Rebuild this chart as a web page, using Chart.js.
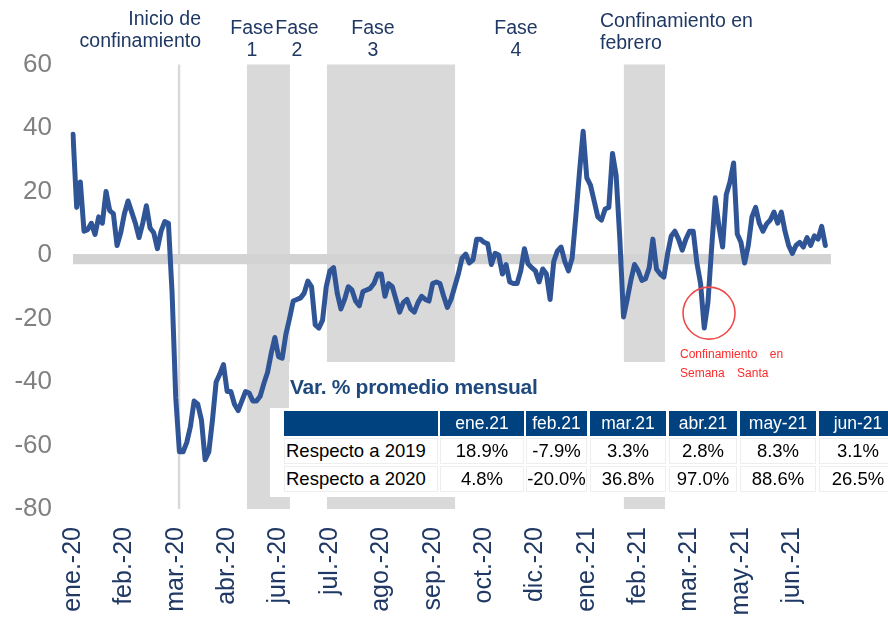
<!DOCTYPE html>
<html>
<head>
<meta charset="utf-8">
<script src="https://cdn.jsdelivr.net/npm/chart.js@4/dist/chart.umd.min.js"></script>
<style>
  body { margin: 0; background: #fff; font-family: "Liberation Sans", Arial, sans-serif; }
  #wrap { position: relative; width: 888px; height: 618px; overflow: hidden; }
  .nota { position: absolute; color: #1F3864; font-size: 19.5px; line-height: 22px; white-space: nowrap; }
  .centro { transform: translateX(-50%); text-align: center; }
  .roja { position: absolute; color: #FF2A2A; font-size: 12px; line-height: 19px; white-space: nowrap; word-spacing: 9px; }
  .caja { position: absolute; background: #fff; }
  .titulo { position: absolute; left: 290px; top: 375px; color: #1F497D; font-weight: bold; font-size: 21px; letter-spacing: -0.3px; white-space: nowrap; }
  .celda { position: absolute; box-sizing: border-box; display: flex; align-items: center; justify-content: center; font-size: 18.5px; white-space: nowrap; }
  .cab { background: #00427F; color: #fff; font-size: 17.5px; }
  .dato { background: #fff; color: #000; border: 1px solid #EEEEEE; }
</style>
</head>
<body>
<div id="wrap">
  <canvas id="chart" width="888" height="618"></canvas>
</div>
<script>
// etiquetas del eje X (una cada 14 puntos)
const tickLabels = ["ene.-20", "feb.-20", "mar.-20", "abr.-20", "jun.-20", "jul.-20", "ago.-20", "sep.-20",
  "oct.-20", "dic.-20", "ene.-21", "feb.-21", "mar.-21", "may.-21", "jun.-21"];

// serie, por tramos
const tramo1 = [38, 15, 23, 7.5, 8, 10, 6.5, 12, 10, 20, 14, 13, 3, 7, 13, 17, 13.5, 10, 5.5, 10,
  15.5, 8.5, 7, 2, 7.5, 10.5, 10, -12];
const tramo2 = [-45, -62, -62, -59, -54, -46, -47, -52, -64.5, -62, -52, -40, -37.5, -34.5,
  -43, -43, -47, -49, -46, -43, -43.5, -46, -46, -44.5, -40.5, -37, -31, -26, -32, -32.5,
  -25, -20, -14.5, -14, -13.5, -12, -8.2, -10, -22, -23, -20.5, -10];
const tramo3 = [-5, -4, -12, -17, -14, -10, -11, -14.5, -16, -11.5, -11, -10.5, -9, -6, -6, -13,
  -9, -10, -14, -18, -15, -14, -17, -18, -15, -13, -14, -14.5, -9, -8.5, -9, -13, -16.5, -14,
  -10, -6, -1, 0.3, -2.5, -1.5, 5, 5, 4, 3.5, -3, 0.5, 0, -6, -3, -8.5, -9, -9, -5, 2, -2.8,
  -4, -5, -8.5, -4.4, -6, -14, -2, 1.3, 2.5, -2, -5, -1, 12, 26, 39];
const tramo4 = [24.3, 22, 17, 12, 11, 14.5, 15, 32, 25, 5, -19.5, -14, -8, -3, -5, -8, -7.5, -4,
  5, -4.5, -6, -7, 0.3, 6, 7.5, 5, 1.5, 5, 7.5, 7.5, -2.5, -9, -23, -15, 2, 18, 9, 2.5, 19, 23,
  29, 6.6, 4, -2.5, 3, 12, 15, 10, 7.5, 9.8, 11, 13.5, 10, 13.5, 7.5, 3, 0.5, 3, 4, 2.5, 5.5,
  3, 6, 5, 9, 3];

const serie = [...tramo1, ...tramo2, ...tramo3, ...tramo4];

// periodos sombreados (en posiciones del eje X)
const sombraDesde = [47.4, 69.2, 150.1];
const sombraHasta = [59.1, 104.1, 161.3];
const inicioConfinamiento = 28.9;
const semanaSanta = { x: 173.3, y: -18.3 };

// tabla
const mesesTabla = ["ene.21", "feb.21", "mar.21", "abr.21", "may-21", "jun-21"];
const respecto2019 = ["18.9%", "-7.9%", "3.3%", "2.8%", "8.3%", "3.1%"];
const respecto2020 = ["4.8%", "-20.0%", "36.8%", "97.0%", "88.6%", "26.5%"];

const totalPuntos = 208;
const labels = [];
for (let i = 0; i < totalPuntos; i++) {
  labels.push(i % 14 === 0 && tickLabels[i / 14] ? tickLabels[i / 14] : "");
}

// fondo: fases sombreadas, línea de inicio y banda del cero
const fondo = {
  id: "fondo",
  beforeDatasetsDraw(chart) {
    const { ctx, chartArea: a, scales: { x, y } } = chart;
    ctx.save();
    ctx.fillStyle = "#D9D9D9";
    sombraDesde.forEach((d, k) => {
      const x0 = x.getPixelForValue(d);
      const x1 = x.getPixelForValue(sombraHasta[k]);
      ctx.fillRect(x0, a.top, x1 - x0, a.bottom - a.top);
    });
    const xi = x.getPixelForValue(inicioConfinamiento);
    ctx.fillRect(xi - 1.2, a.top, 2.4, a.bottom - a.top);
    ctx.fillStyle = "#D3D3D3";
    const y0 = y.getPixelForValue(0.3);
    const y1 = y.getPixelForValue(-2.9);
    ctx.fillRect(a.left, y0, x.getPixelForValue(206.5) - a.left, y1 - y0);
    ctx.restore();
  },
  afterDatasetsDraw(chart) {
    const { ctx, scales: { x, y } } = chart;
    ctx.save();
    ctx.strokeStyle = "#EE4A4A";
    ctx.lineWidth = 1.6;
    ctx.beginPath();
    ctx.arc(x.getPixelForValue(semanaSanta.x), y.getPixelForValue(semanaSanta.y), 26, 0, Math.PI * 2);
    ctx.stroke();
    ctx.restore();
  }
};

new Chart(document.getElementById("chart"), {
  type: "line",
  data: {
    labels: labels,
    datasets: [{
      data: serie,
      borderColor: "#2F5597",
      borderWidth: 5,
      borderJoinStyle: "round",
      borderCapStyle: "round",
      pointRadius: 0,
      tension: 0,
      fill: false
    }]
  },
  options: {
    responsive: false,
    animation: false,
    devicePixelRatio: 1,
    layout: { padding: { top: 64.5, right: 55.3, bottom: 0, left: 0 } },
    plugins: { legend: { display: false }, tooltip: { enabled: false } },
    scales: {
      x: {
        grid: { display: false, drawTicks: false },
        border: { display: false },
        ticks: {
          autoSkip: false,
          maxRotation: 90,
          minRotation: 90,
          padding: 18,
          color: "#1F3864",
          font: { family: "Liberation Sans", size: 25 },
          callback: (v, i) => labels[i]
        },
        afterFit: s => { s.height = 109; }
      },
      y: {
        min: -80,
        max: 60,
        grid: { display: false, drawTicks: false },
        border: { display: false },
        ticks: {
          stepSize: 20,
          padding: 21,
          color: "#808080",
          font: { family: "Liberation Sans", size: 26 }
        },
        afterFit: s => { s.width = 73; }
      }
    }
  },
  plugins: [fondo]
});

// anotaciones y tabla (texto HTML sobre el gráfico)
const wrap = document.getElementById("wrap");
function add(html) { wrap.insertAdjacentHTML("beforeend", html); }

add('<div class="nota" style="right:687px;top:7px;text-align:right">Inicio de<br>confinamiento</div>');
add('<div class="nota centro" style="left:252px;top:16px">Fase<br>1</div>');
add('<div class="nota centro" style="left:297px;top:16px">Fase<br>2</div>');
add('<div class="nota centro" style="left:373px;top:16px">Fase<br>3</div>');
add('<div class="nota centro" style="left:516px;top:16px">Fase<br>4</div>');
add('<div class="nota" style="left:600px;top:9px">Confinamiento en<br>febrero</div>');

add('<div class="caja" style="left:289px;top:362px;width:599px;height:48px"></div>');
add('<div class="caja" style="left:270px;top:408px;width:618px;height:89px"></div>');
add('<div class="roja" style="left:680px;top:345px">Confinamiento en<br>Semana Santa</div>');
add('<div class="titulo">Var. % promedio mensual</div>');

const colX = [284, 440, 526, 590, 669, 740, 819];
const colW = [154, 84, 61, 76, 68, 76, 78];
const filaY = [411, 438, 466];
const filaH = [25, 26, 26];
const filas = [
  [""].concat(mesesTabla),
  ["Respecto a 2019"].concat(respecto2019),
  ["Respecto a 2020"].concat(respecto2020)
];
filas.forEach((fila, r) => {
  fila.forEach((txt, c) => {
    const cls = r === 0 ? "celda cab" : "celda dato";
    const just = c === 0 ? "justify-content:flex-start;padding-left:1px;" : "";
    add(`<div class="${cls}" style="left:${colX[c]}px;top:${filaY[r]}px;width:${colW[c]}px;height:${filaH[r]}px;${just}">${txt}</div>`);
  });
});
</script>
</body>
</html>
